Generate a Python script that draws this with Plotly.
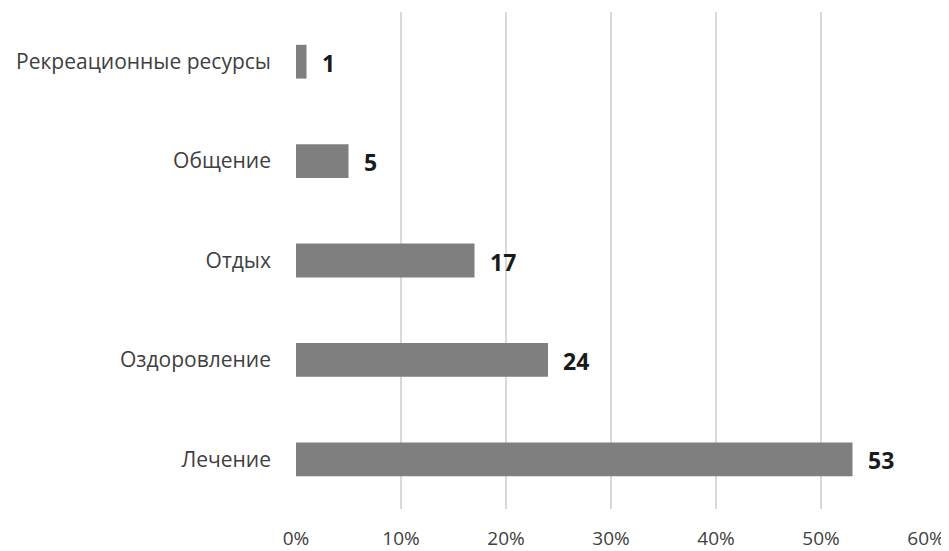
import plotly.graph_objects as go

categories = ["Лечение", "Оздоровление", "Отдых", "Общение", "Рекреационные ресурсы"]
values = [53, 24, 17, 5, 1]
tick_vals = [0, 10, 20, 30, 40, 50, 60]
tick_text = ["0%", "10%", "20%", "30%", "40%", "50%", "60%"]

fig = go.Figure()
fig.add_trace(go.Bar(
    x=values, y=categories, orientation="h",
    marker=dict(color="#7f7f7f", line=dict(width=0)),
    hoverinfo="skip",
))

for c, v in zip(categories, values):
    fig.add_annotation(x=v, y=c, text=f"<b>{v}</b>", showarrow=False,
                       xanchor="left", xshift=13, yshift=-1,
                       font=dict(family="Open Sans", size=23, color="#1a1a1a"))

# page body adds an 8px offset, so the figure is sized to the visible area
fig.update_layout(
    width=941, height=543,
    margin=dict(l=288, r=23, t=4, b=42, autoexpand=False),
    paper_bgcolor="white", plot_bgcolor="white",
    bargap=0.66,
    showlegend=False,
    font=dict(family="Open Sans", size=18, color="#404040"),
    xaxis=dict(range=[0, 60], tickvals=tick_vals, ticktext=tick_text,
               showgrid=True, gridcolor="#d9d9d9", gridwidth=2,
               zeroline=False, showline=False, ticks="", automargin=False,
               ticklabelstandoff=16,
               tickfont=dict(size=19, color="#404040"), fixedrange=True),
    yaxis=dict(showgrid=False, zeroline=False, showline=False, ticks="",
               automargin=False,
               ticklabelstandoff=24, tickfont=dict(size=21, color="#404040"),
               fixedrange=True),
)

fig.write_html("out.html")
